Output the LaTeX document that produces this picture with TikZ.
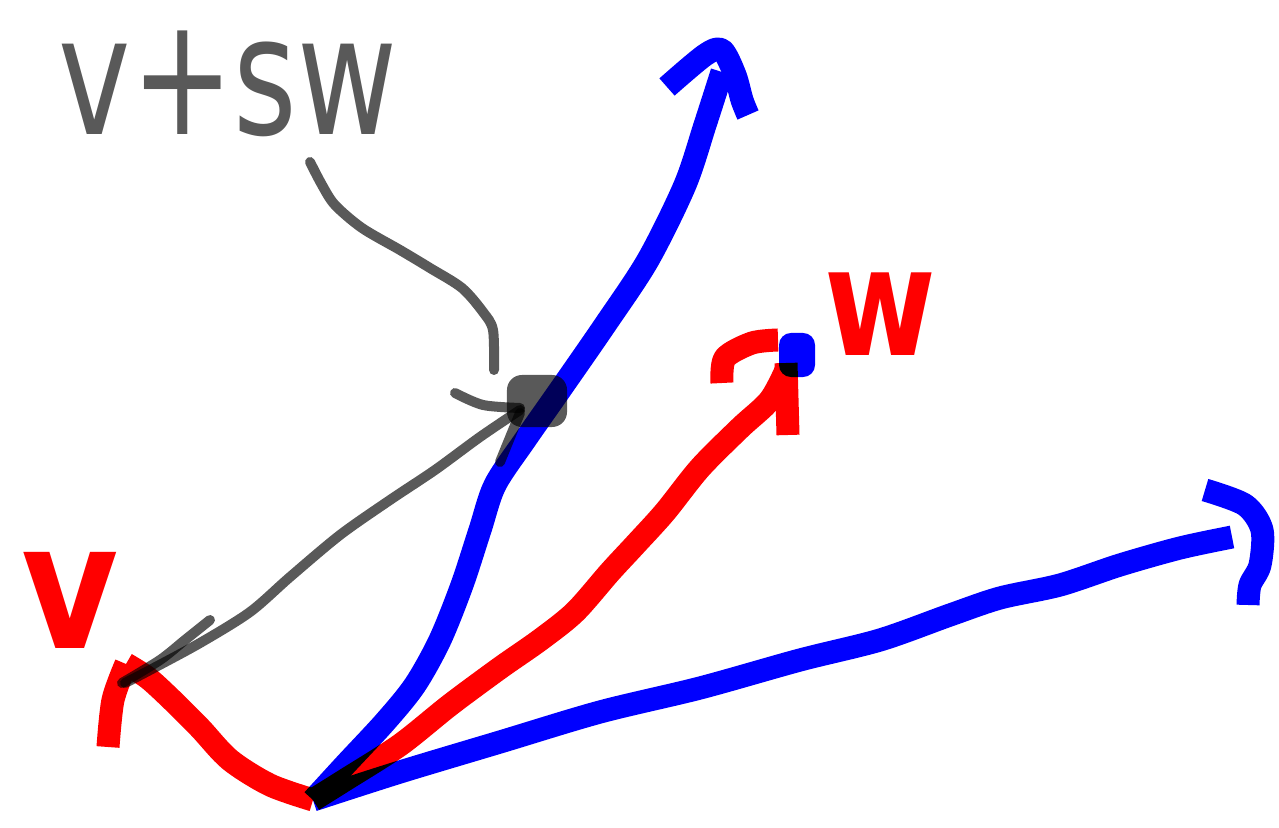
\documentclass[tikz,border=0pt]{standalone}
\usepackage{graphicx}
\usepackage{fontspec}
\setsansfont{DejaVu Sans}
\begin{document}
\begin{tikzpicture}[x=0.01cm, y=-0.01cm, line join=round]
    \tikzstyle{bluepen}=[draw=blue, line width=0.23cm]
    \tikzstyle{redpen}=[draw=red, line width=0.23cm]
    \tikzstyle{graypen}=[draw=black, draw opacity=0.65, line width=0.1cm, line cap=round]
    \tikzstyle{hand}=[font=\sffamily, inner sep=0pt]
    \tikzstyle{blob}=[fill=black, fill opacity=0.65, rounded corners=0.15cm, inner sep=0pt]
    \useasboundingbox (0,0) rectangle (1279,828);
    \coordinate (o) at (313,800);
    \coordinate (vtip) at (126,664);
    \coordinate (wtip) at (787,368);
    \coordinate (atip) at (722,72);
    \coordinate (btip) at (1232,537);
    \coordinate (q1) at (310,162);
    \coordinate (q2) at (494,370);
    \node[hand, text=black, text opacity=0.65] (sum) at (228,84) {\fontsize{47}{47}\selectfont\scalebox{0.74}[1]{v+sw}};
    \node[hand, text=red] (vl) at (70,600) {\fontsize{50}{50}\selectfont\bfseries\scalebox{0.85}[1]{v}};
    \node[hand, text=red] (wl) at (880,314) {\fontsize{43}{43}\selectfont\bfseries\scalebox{0.8}[1]{w}};
    \begin{scope}[blend mode=multiply]
    \draw[bluepen] plot[smooth] coordinates {(o) (345,765) (385,722) (415,685) (440,640) (462,585) (480,530) (495,485) (525,440) (560,390) (605,325) (648,260) (685,185) (705,125) (atip)};
    \draw[bluepen] plot[smooth] coordinates {(667,87) (705,55) (722,50) (735,75) (742,100) (748,115)};
    \draw[bluepen] plot[smooth] coordinates {(o) (400,772) (500,742) (600,712) (700,688) (800,660) (880,640) (950,615) (1000,598) (1060,585) (1120,565) (1180,548) (btip)};
    \draw[bluepen] plot[smooth] coordinates {(1205,490) (1245,505) (1262,530) (1260,565) (1250,585) (1248,605)};
    \node[fill=blue, rounded corners=0.12cm, minimum width=0.36cm, minimum height=0.44cm, inner sep=0pt] (dot) at (797,355) {};
    \draw[redpen] plot[smooth] coordinates {(o) (345,780) (400,745) (450,705) (500,668) (540,640) (575,612) (610,572) (635,545) (665,512) (700,468) (740,428) (770,400) (wtip)};
    \draw[redpen] plot[smooth] coordinates {(722,383) (725,358) (752,343) (778,340)};
    \draw[redpen] (786,363) -- (788,435);
    \draw[redpen] plot[smooth] coordinates {(o) (270,785) (230,760) (200,728) (172,700) (148,678) (vtip)};
    \draw[redpen] plot[smooth] coordinates {(vtip) (113,700) (108,747)};
    \end{scope}
    \node[blob, minimum width=0.6cm, minimum height=0.52cm] (p) at (537,401) {};
    \draw[graypen] plot[smooth] coordinates {(125,683) (150,670) (200,643) (250,612) (290,577) (340,535) (390,500) (435,470) (480,437) (520,410)};
    \draw[graypen] plot[smooth] coordinates {(122,683) (160,660) (185,640) (210,620)};
    \draw[graypen] plot[smooth] coordinates {(455,393) (483,405) (520,408)};
    \draw[graypen] (500,462) -- (520,413);
    \draw[graypen] plot[smooth] coordinates {(q1) (322,185) (335,205) (362,228) (400,250) (430,268) (462,288) (483,312) (493,330) (q2)};
\end{tikzpicture}
\end{document}
